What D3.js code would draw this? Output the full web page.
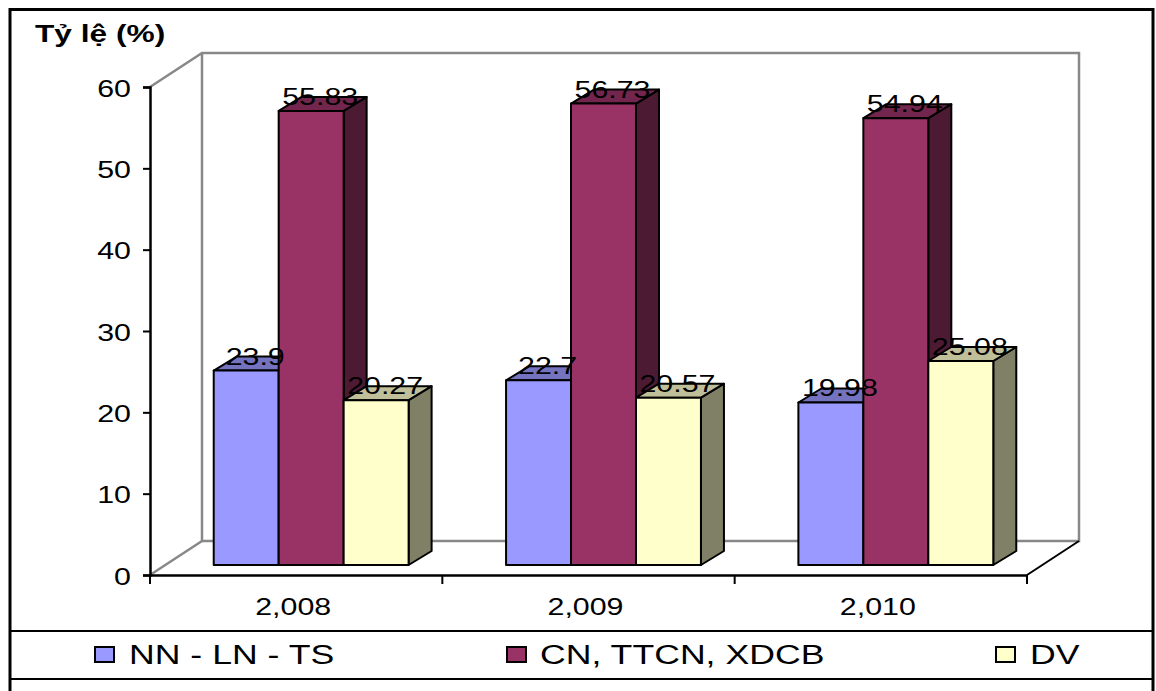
<!DOCTYPE html>
<html>
<head>
<meta charset="utf-8">
<script src="https://cdn.jsdelivr.net/npm/d3@7"></script>
<style>
  html, body { margin: 0; padding: 0; background: #fff; }
  svg { display: block; }
  text { font-family: "Liberation Sans", Arial, sans-serif; fill: #000; }
</style>
</head>
<body>
<svg id="chart" width="1156" height="691"></svg>
<script>
// Cơ cấu kinh tế theo ngành (%)
const years = [2008, 2009, 2010];
const seriesNames = ["NN - LN - TS", "CN, TTCN, XDCB", "DV"];
const nnValues = [23.9, 22.7, 19.98];
const cnValues = [55.83, 56.73, 54.94];
const dvValues = [20.27, 20.57, 25.08];
const yTicks = [0, 10, 20, 30, 40, 50, 60];

// face colours per series: front, top, side
const palette = [
  { front: "#9999FF", top: "#7373BF", side: "#4D4D80" },
  { front: "#993366", top: "#73264D", side: "#4D1A33" },
  { front: "#FFFFCC", top: "#BFBF99", side: "#808066" }
];
const seriesValues = [nnValues, cnValues, dvValues];

const svg = d3.select("#chart");
const SX = 1.32; // horizontal text stretch

// plot geometry (front plane of the floor / side wall)
const x0 = 150, x1 = 1027, yBase = 575, yTop = 87;
const depth = { dx: 52, dy: -34 };       // wall depth
const barOff = { dx: 15, dy: -10 };      // bar front face offset
const barDepth = { dx: 23, dy: -14 };    // bar thickness in depth

const y = d3.scaleLinear().domain([0, 60]).range([yBase, yTop]);
const x = d3.scaleBand().domain(years).range([x0, x1]).padding(0);
const bw = x.bandwidth() / 4.5;          // gap width 150%
const xs = d3.scaleBand().domain(d3.range(seriesNames.length)).range([0, 3 * bw]);

function stretchedText(g, tx, ty, str, opts) {
  return g.append("text")
    .attr("transform", `translate(${tx},${ty}) scale(${SX},1)`)
    .attr("text-anchor", opts.anchor || "start")
    .style("font-size", opts.size + "px")
    .style("font-weight", opts.weight || "normal")
    .text(str);
}

// outer frame and legend separators
svg.append("rect")
  .attr("x", 10).attr("y", 9.5).attr("width", 1143).attr("height", 720)
  .attr("fill", "#fff").attr("stroke", "#000").attr("stroke-width", 3);
svg.append("line").attr("x1", 10).attr("x2", 1153).attr("y1", 631).attr("y2", 631)
  .attr("stroke", "#000").attr("stroke-width", 2);
svg.append("line").attr("x1", 10).attr("x2", 1153).attr("y1", 679).attr("y2", 679)
  .attr("stroke", "#000").attr("stroke-width", 2);

// title
stretchedText(svg, 35, 42, "Tỷ lệ (%)", { size: 24, weight: "bold" });

// walls
const wall = svg.append("g").attr("fill", "none").attr("stroke", "#888").attr("stroke-width", 2.5);
const bx0 = x0 + depth.dx, bx1 = x1 + depth.dx;
const byB = yBase + depth.dy, byT = yTop + depth.dy;
wall.append("path").attr("d", `M${x0},${yTop}L${bx0},${byT}L${bx1},${byT}L${bx1},${byB}L${bx0},${byB}L${bx0},${byT}`);
wall.append("path").attr("d", `M${x0},${yBase}L${bx0},${byB}`);
svg.append("path").attr("d", `M${x1},${yBase}L${bx1},${byB}`)
  .attr("stroke", "#000").attr("stroke-width", 2).attr("fill", "none");

// axes
const yAxisG = svg.append("g").attr("transform", `translate(${x0},0)`)
  .call(d3.axisLeft(y).tickValues(yTicks).tickSize(7).tickPadding(12).tickFormat(d3.format("d")));
yAxisG.select(".domain").attr("stroke", "#000").attr("stroke-width", 2.5);
yAxisG.selectAll(".tick line").attr("stroke", "#000").attr("stroke-width", 2);
yAxisG.selectAll(".tick text").remove();
yAxisG.selectAll(".tick").each(function (d) {
  stretchedText(d3.select(this), -19, 9, d, { size: 23, anchor: "end" });
});

const xAxisG = svg.append("g").attr("transform", `translate(0,${yBase})`)
  .call(d3.axisBottom(x).tickSize(0).tickFormat(""));
xAxisG.select(".domain").attr("stroke", "#000").attr("stroke-width", 2.5);
xAxisG.selectAll(".tick").remove();
const boundaries = years.map(d => x(d)).concat([x1]);
xAxisG.selectAll("line.sep").data(boundaries).join("line")
  .attr("class", "sep")
  .attr("x1", d => d).attr("x2", d => d).attr("y1", 0).attr("y2", 9)
  .attr("stroke", "#000").attr("stroke-width", 2);
years.forEach(yr => {
  stretchedText(svg, x(yr) + x.bandwidth() / 2 - 3, 615, d3.format(",")(yr), { size: 23, anchor: "middle" });
});

// 3D bars
const bars = svg.append("g").attr("stroke", "#000").attr("stroke-width", 2).attr("stroke-linejoin", "round");
const labels = [];
years.forEach((yr, ci) => {
  seriesValues.forEach((vals, si) => {
    const v = vals[ci];
    const fx0 = x(yr) + 0.75 * bw + xs(si) + barOff.dx;
    const fx1 = fx0 + xs.bandwidth();
    const fyB = y(0) + barOff.dy;
    const fyT = y(v) + barOff.dy;
    const c = palette[si];
    const dx = barDepth.dx, dy = barDepth.dy;
    bars.append("path").attr("fill", c.side)
      .attr("d", `M${fx1},${fyB}L${fx1 + dx},${fyB + dy}L${fx1 + dx},${fyT + dy}L${fx1},${fyT}Z`);
    bars.append("path").attr("fill", c.top)
      .attr("d", `M${fx0},${fyT}L${fx0 + dx},${fyT + dy}L${fx1 + dx},${fyT + dy}L${fx1},${fyT}Z`);
    bars.append("rect").attr("fill", c.front)
      .attr("x", fx0).attr("y", fyT).attr("width", fx1 - fx0).attr("height", fyB - fyT);
    labels.push({ x: (fx0 + fx1) / 2 + 9, y: fyT - 6, text: String(v) });
  });
});

// data labels
const labelG = svg.append("g");
labels.forEach(l => stretchedText(labelG, l.x, l.y, l.text, { size: 23, anchor: "middle" }));

// legend
const legendItems = [
  { sq: 94, tx: 129 },
  { sq: 506, tx: 540 },
  { sq: 995, tx: 1030 }
];
const legend = svg.append("g");
seriesNames.forEach((name, i) => {
  const it = legendItems[i];
  legend.append("rect")
    .attr("x", it.sq + 1).attr("y", 647).attr("width", 19).attr("height", 15)
    .attr("fill", palette[i].front).attr("stroke", "#000").attr("stroke-width", 2);
  stretchedText(legend, it.tx, 664, name, { size: 27 });
});
</script>
</body>
</html>
